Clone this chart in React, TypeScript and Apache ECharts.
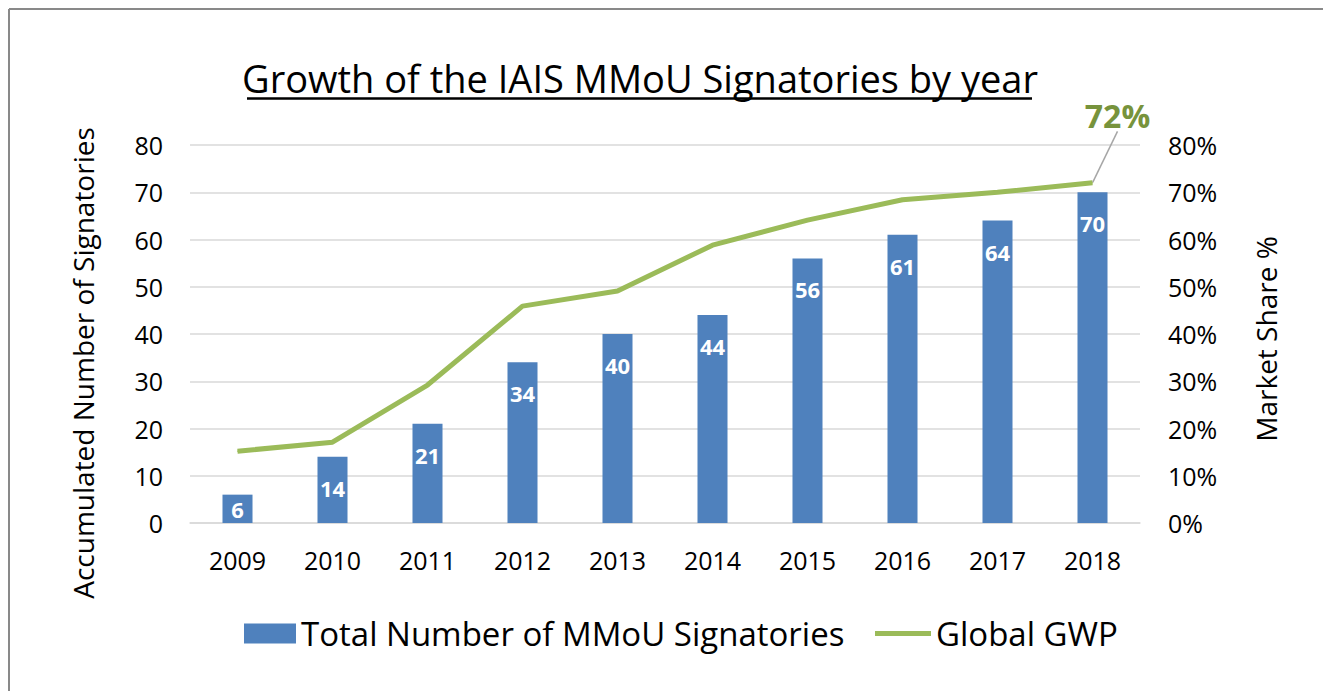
import React, { useEffect, useRef } from "react";
import * as echarts from "echarts";

const years = ["2009", "2010", "2011", "2012", "2013", "2014", "2015", "2016", "2017", "2018"];
const signatories = [6, 14, 21, 34, 40, 44, 56, 61, 64, 70];
const gwpShare = [15.2, 17.1, 29.2, 45.9, 49.1, 58.8, 64.1, 68.4, 70.0, 72.0];

const titleText = "Growth of the IAIS MMoU Signatories by year";
const barName = "Total Number of MMoU Signatories";
const lineName = "Global GWP";
const leftAxisName = "Accumulated Number of Signatories";
const rightAxisName = "Market Share %";

const FONT = "'Open Sans', sans-serif";

export default function App() {
  const ref = useRef<HTMLDivElement>(null);
  useEffect(() => {
    if (!ref.current) return;
    const chart = echarts.init(ref.current, undefined, { renderer: "svg" });
    const last = gwpShare.length - 1;
    chart.setOption({
      animation: false,
      backgroundColor: "#ffffff",
      grid: { left: 190, right: 183, top: 145, bottom: 168, containLabel: false },
      legend: [
        {
          data: [{ name: barName, icon: "rect" }],
          left: 244,
          top: 617,
          itemWidth: 52,
          itemHeight: 20,
          padding: 0,
          textStyle: { fontSize: 33, fontFamily: FONT, color: "#000" },
        },
        {
          data: [{ name: lineName, icon: "rect" }],
          left: 875,
          top: 617,
          itemWidth: 56,
          itemHeight: 5,
          padding: 0,
          textStyle: { fontSize: 33, fontFamily: FONT, color: "#000" },
        },
      ],
      xAxis: {
        type: "category",
        data: years,
        axisTick: { show: false },
        axisLine: { lineStyle: { color: "#d9d9d9", width: 1.5 } },
        axisLabel: { fontSize: 25, fontFamily: FONT, color: "#000", margin: 24 },
      },
      yAxis: [
        {
          type: "value",
          min: 0,
          max: 80,
          interval: 10,
          axisLine: { show: false },
          axisTick: { show: false },
          splitLine: { lineStyle: { color: "#d9d9d9", width: 1.5 } },
          axisLabel: { fontSize: 25, fontFamily: FONT, color: "#000", margin: 27 },
        },
        {
          type: "value",
          min: 0,
          max: 80,
          interval: 10,
          axisLine: { show: false },
          axisTick: { show: false },
          splitLine: { show: false },
          axisLabel: { fontSize: 25, fontFamily: FONT, color: "#000", margin: 28, formatter: "{value}%" },
        },
      ],
      series: [
        {
          name: barName,
          type: "bar",
          yAxisIndex: 0,
          barWidth: "31.6%",
          itemStyle: { color: "#4F81BD" },
          label: {
            show: true,
            position: "insideTop",
            distance: 20,
            color: "#fff",
            fontWeight: "bold",
            fontSize: 22,
            fontFamily: FONT,
          },
          data: signatories.map((v, i) => (i === 0 ? { value: v, label: { position: "inside" } } : v)),
        },
        {
          name: lineName,
          type: "line",
          yAxisIndex: 1,
          symbol: "circle",
          symbolSize: 1,
          itemStyle: { color: "#9BBB59" },
          lineStyle: { color: "#9BBB59", width: 5 },
          label: { show: false },
          labelLine: { show: true, lineStyle: { color: "#a6a6a6", width: 1.5 } },
          labelLayout: (params: any) => (params.dataIndex === last ? { dx: 25, dy: -46 } : {}),
          data: gwpShare.map((v, i) =>
            i === last
              ? {
                  value: v,
                  label: {
                    show: true,
                    position: "top",
                    formatter: "{c}%",
                    color: "#77933C",
                    fontWeight: "bold",
                    fontSize: 32,
                    fontFamily: FONT,
                  },
                }
              : v
          ),
        },
      ],
      graphic: [
        { type: "line", shape: { x1: 9, y1: 9, x2: 1323, y2: 9 }, style: { stroke: "#898989", lineWidth: 2 } },
        { type: "line", shape: { x1: 9, y1: 9, x2: 9, y2: 691 }, style: { stroke: "#898989", lineWidth: 2 } },
        {
          type: "text",
          x: 640,
          y: 78,
          style: {
            text: titleText,
            fontSize: 38,
            fontFamily: FONT,
            fill: "#000",
            textAlign: "center",
            textVerticalAlign: "middle",
          },
        },
        { type: "line", shape: { x1: 247, y1: 98.5, x2: 1032, y2: 98.5 }, style: { stroke: "#000", lineWidth: 2.5 } },
        {
          type: "text",
          x: 83,
          y: 363,
          rotation: Math.PI / 2,
          style: {
            text: leftAxisName,
            fontSize: 28,
            fontFamily: FONT,
            fill: "#000",
            textAlign: "center",
            textVerticalAlign: "middle",
          },
        },
        {
          type: "text",
          x: 1266,
          y: 339,
          rotation: Math.PI / 2,
          style: {
            text: rightAxisName,
            fontSize: 28,
            fontFamily: FONT,
            fill: "#000",
            textAlign: "center",
            textVerticalAlign: "middle",
          },
        },
      ],
    });
    return () => chart.dispose();
  }, []);
  return (
    <div
      ref={ref}
      style={{ position: "absolute", left: 0, top: 0, width: 1323, height: 691, background: "#fff" }}
    />
  );
}
